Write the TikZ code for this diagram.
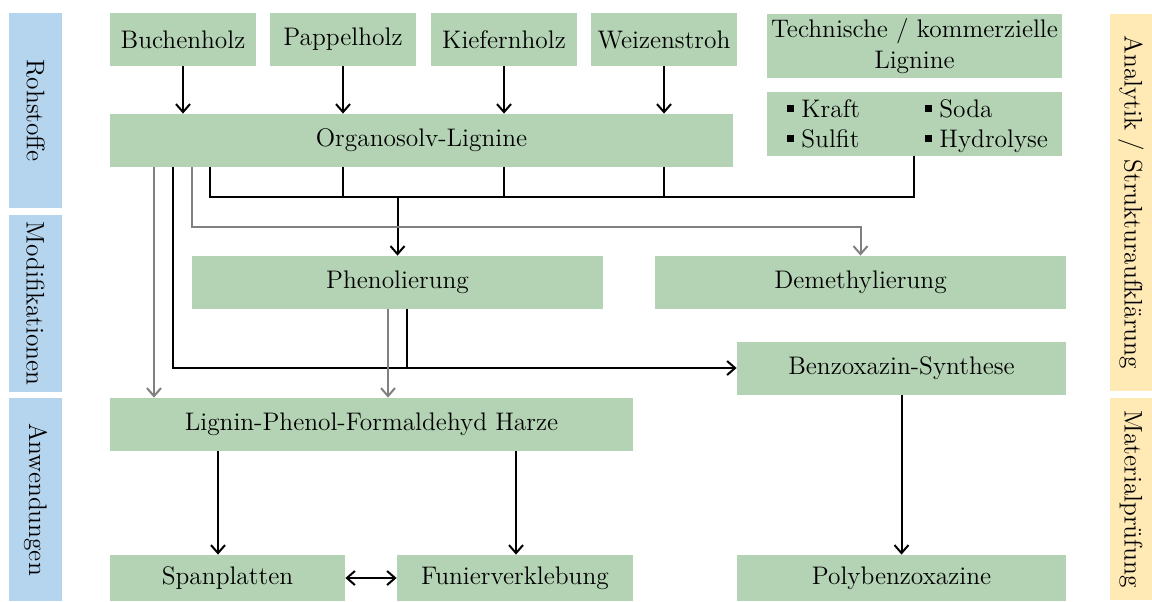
\documentclass[tikz,border=0pt]{standalone}
\usetikzlibrary{arrows.meta}
\definecolor{gfill}{RGB}{179,211,180}
\definecolor{bfill}{RGB}{181,212,237}
\definecolor{yfill}{RGB}{255,233,180}
\definecolor{glin}{RGB}{128,128,128}
\newcommand\greenbox[6]{\node[gbox, minimum width={(#4-#2)*0.5pt}, minimum height={(#5-#3)*0.5pt}] (#1) at ({(#2+#4)/2},{(#3+#5)/2}) {#6};}
\newcommand\sidebar[7]{\node[sbox, fill=#7, rotate=-90, minimum width={(#5-#3)*0.5pt}, minimum height={(#4-#2)*0.5pt}] (#1) at ({(#2+#4)/2},{(#3+#5)/2}) {#6};}
\newcommand\mybul{\rule[2.5pt]{3.5pt}{3.5pt}\hspace{3.5pt}}
\begin{document}
\begin{tikzpicture}[x=0.5pt,y=-0.5pt,
  every node/.style={font=\fontsize{12.7}{15.5}\selectfont},
  gbox/.style={fill=gfill, draw=none, inner sep=1pt, align=center},
  sbox/.style={draw=none, inner sep=1pt},
  ln/.style={line width=1pt, black},
  arr/.style={ln, -{Straight Barb[length=4pt,width=7pt]}},
  darr/.style={ln, {Straight Barb[length=4pt,width=7pt]}-{Straight Barb[length=4pt,width=7pt]}},
  garr/.style={line width=1pt, glin, -{Straight Barb[length=4pt,width=7pt]}}]
\useasboundingbox (0,0) rectangle (1152,601);
% side bars
\sidebar{rohst}{9}{13}{62}{208}{Rohstoffe}{bfill}
\sidebar{modif}{9}{215}{62}{392}{Modifikationen}{bfill}
\sidebar{anwend}{9}{398}{62}{601}{Anwendungen}{bfill}
\sidebar{analyt}{1110}{14}{1152}{391}{Analytik / Strukturaufklärung}{yfill}
\sidebar{matpr}{1110}{398}{1152}{600}{Materialprüfung}{yfill}
% boxes
\greenbox{buchen}{110}{13}{256}{66}{Buchenholz}
\greenbox{pappel}{270}{13}{416}{66}{Pappelholz}
\greenbox{kiefer}{431}{13}{577}{66}{Kiefernholz}
\greenbox{weizen}{591}{13}{737}{66}{Weizenstroh}
\greenbox{tech}{767}{14}{1062}{78}{Technische / kommerzielle\\Lignine}
\greenbox{kraft}{767}{92}{1062}{156}{}
\greenbox{orga}{110}{114}{733}{167}{Organosolv-Lignine}
\greenbox{phen}{192}{256}{603}{309}{Phenolierung}
\greenbox{demeth}{655}{256}{1066}{309}{Demethylierung}
\greenbox{benz}{737}{342}{1066}{395}{Benzoxazin-Synthese}
\greenbox{lpf}{110}{398}{633}{451}{Lignin-Phenol-Formaldehyd Harze}
\greenbox{span}{110}{555}{345}{601}{Spanplatten}
\greenbox{funier}{397}{555}{633}{601}{Funierverklebung}
\greenbox{poly}{737}{555}{1066}{601}{Polybenzoxazine}
% list items
\node[anchor=base west, inner sep=0] (ikraft) at (787,117) {\mybul Kraft};
\node[anchor=base west, inner sep=0] (isulfit) at (787,147) {\mybul Sulfit};
\node[anchor=base west, inner sep=0] (isoda) at (925,117) {\mybul Soda};
\node[anchor=base west, inner sep=0] (ihydro) at (925,147) {\mybul Hydrolyse};
% helper coordinates
\coordinate (busL) at (210,197);
\coordinate (busR) at (914,197);
\coordinate (g1) at (192,227);
\coordinate (g0) at (154,0);
\coordinate (b1) at (173,368);
\coordinate (p1) at (407,0);
\coordinate (p2) at (388,0);
\coordinate (a1) at (218,0);
\coordinate (a2) at (516,0);
% source arrows
\draw[arr] (buchen) -- (buchen.south |- orga.north);
\draw[arr] (pappel) -- (pappel.south |- orga.north);
\draw[arr] (kiefer) -- (kiefer.south |- orga.north);
\draw[arr] (weizen) -- (weizen.south |- orga.north);
% bus
\draw[ln] (orga.south -| busL) -- (busL) -- (busR) -- (busR |- kraft.south);
\draw[ln] (pappel.south |- orga.south) -- (pappel.south |- busL);
\draw[ln] (kiefer.south |- orga.south) -- (kiefer.south |- busL);
\draw[ln] (weizen.south |- orga.south) -- (weizen.south |- busL);
\draw[arr] (phen.north |- busL) -- (phen.north);
% black to benzoxazin
\draw[arr] (orga.south -| b1) -- (b1) -- (b1 -| benz.west);
\draw[ln] (phen.south -| p1) -- (p1 |- b1);
% gray
\draw[garr] (orga.south -| g1) -- (g1) -- (g1 -| demeth.north) -- (demeth.north);
\draw[garr] (orga.south -| g0) -- (lpf.north -| g0);
\draw[garr] (phen.south -| p2) -- (lpf.north -| p2);
% applications
\draw[arr] (lpf.south -| a1) -- (span.north -| a1);
\draw[arr] (lpf.south -| a2) -- (funier.north -| a2);
\draw[darr] (span) -- (funier);
\draw[arr] (benz) -- (poly);
\end{tikzpicture}
\end{document}
